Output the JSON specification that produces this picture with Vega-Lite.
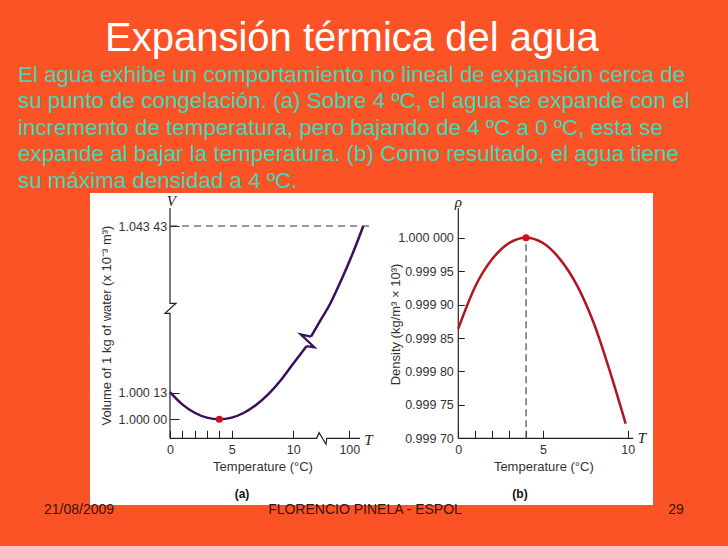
{
  "$schema": "https://vega.github.io/schema/vega-lite/v6.json",
  "autosize": {"type": "none"},
  "padding": {"left": 90, "top": 193, "right": 638, "bottom": 353},
  "background": "#fb5326",
  "title": {
    "text": "Expansión térmica del agua",
    "anchor": "start",
    "frame": "group",
    "dx": 15,
    "offset": 5,
    "font": "Liberation Sans",
    "fontSize": 40,
    "fontWeight": "normal",
    "color": "#ffffff"
  },
  "datasets": {
    "vol": [
      {"seg": "a", "T": 0, "V": 1.000133},
      {"seg": "a", "T": 1, "V": 1.000073},
      {"seg": "a", "T": 2, "V": 1.000032},
      {"seg": "a", "T": 3, "V": 1.000008},
      {"seg": "a", "T": 4, "V": 1.0},
      {"seg": "a", "T": 5, "V": 1.000008},
      {"seg": "a", "T": 6, "V": 1.000032},
      {"seg": "a", "T": 7, "V": 1.000071},
      {"seg": "a", "T": 8, "V": 1.000124},
      {"seg": "a", "T": 9, "V": 1.000192},
      {"seg": "a", "T": 10, "V": 1.000273},
      {"seg": "a", "T": 20.8, "V": 1.000316},
      {"seg": "a", "T": 31.53, "V": 1.000358},
      {"seg": "b", "T": 38.45, "V": 1.000404},
      {"seg": "b", "T": 52.9, "V": 1.00048},
      {"seg": "b", "T": 69.0, "V": 1.0011014},
      {"seg": "b", "T": 79.75, "V": 1.008699},
      {"seg": "b", "T": 90.36, "V": 1.016567},
      {"seg": "b", "T": 106.4, "V": 1.029321},
      {"seg": "b", "T": 122.5, "V": 1.04343}
    ],
    "vol_zig": [
      {"o": 1, "T": 31.53, "V": 1.000358},
      {"o": 2, "T": 43.75, "V": 1.000352},
      {"o": 3, "T": 21.89, "V": 1.000415},
      {"o": 4, "T": 38.45, "V": 1.000404}
    ],
    "axes_a": [
      {"part": "y", "o": 1, "T": 0, "V": 1.053198},
      {"part": "y", "o": 2, "T": 0, "V": 1.0014813},
      {"part": "y", "o": 3, "T": 0.4865, "V": 1.0014813},
      {"part": "y", "o": 4, "T": -0.4054, "V": 1.000518},
      {"part": "y", "o": 5, "T": 0, "V": 1.000518},
      {"part": "y", "o": 6, "T": 0, "V": 0.9999071},
      {"part": "x", "o": 1, "T": 0, "V": 0.9999071},
      {"part": "x", "o": 2, "T": 47.6, "V": 0.9999071},
      {"part": "x", "o": 3, "T": 51.3, "V": 0.9999345},
      {"part": "x", "o": 4, "T": 62.55, "V": 0.9998778},
      {"part": "x", "o": 5, "T": 63.68, "V": 0.9999071},
      {"part": "x", "o": 6, "T": 117.2, "V": 0.9999071}
    ],
    "ref_a": [{"T": 0, "T2": 134, "V": 1.04343}],
    "min_a": [{"T": 4, "V": 1.0}],
    "notes_a": [
      {"role": "symbol", "label": "V", "T": 0.1, "V": 1.057},
      {"role": "symbol", "label": "T", "T": 130.9, "V": 0.9998988},
      {"role": "panel", "label": "(a)", "T": 5.84, "V": 0.999635},
      {"role": "footer", "label": "21/08/2009", "T": -7.378, "V": 0.9995567}
    ],
    "dens": [
      {"T": 0, "rho": 0.999864},
      {"T": 1, "rho": 0.999927},
      {"T": 2, "rho": 0.999968},
      {"T": 3, "rho": 0.999992},
      {"T": 4, "rho": 1.0},
      {"T": 5, "rho": 0.999992},
      {"T": 6, "rho": 0.999968},
      {"T": 7, "rho": 0.999929},
      {"T": 8, "rho": 0.999872},
      {"T": 9, "rho": 0.999796},
      {"T": 9.88, "rho": 0.999722}
    ],
    "axes_b": [
      {"part": "y", "o": 1, "T": 0, "rho": 1.000044},
      {"part": "y", "o": 2, "T": 0, "rho": 0.9997},
      {"part": "x", "o": 1, "T": 0, "rho": 0.9997},
      {"part": "x", "o": 2, "T": 10.33, "rho": 0.9997}
    ],
    "ref_b": [{"T": 4, "rho": 0.9997, "rho2": 1.0}],
    "max_b": [{"T": 4, "rho": 1.0}],
    "notes_b": [
      {"role": "symbol", "label": "ρ", "T": 0, "rho": 1.0000538},
      {"role": "symbol", "label": "T", "T": 10.84, "rho": 0.9997004},
      {"role": "panel", "label": "(b)", "T": 3.64, "rho": 0.9996167},
      {"role": "footer", "label": "FLORENCIO PINELA - ESPOL", "T": -5.508, "rho": 0.9995928},
      {"role": "footer", "label": "29", "T": 12.85, "rho": 0.9995928}
    ]
  },
  "bounds": "flush",
  "vconcat": [
    {
      "title": {
        "text": [
          "El agua exhibe un comportamiento no lineal de expansión cerca de",
          "su punto de congelación. (a) Sobre 4 ºC, el agua se expande con el",
          "incremento de temperatura, pero bajando de 4 ºC a 0 ºC, esta se",
          "expande al bajar la temperatura. (b) Como resultado, el agua tiene",
          "su máxima densidad a 4 ºC."
        ],
        "anchor": "start",
        "frame": "group",
        "dx": -72,
        "offset": 1,
        "font": "Liberation Sans",
        "fontSize": 22.4,
        "fontWeight": "normal",
        "lineHeight": 26.5,
        "color": "#42d8b4"
      },
      "spacing": 0,
      "bounds": "flush",
      "hconcat": [
        {
          "width": 284,
          "height": 312,
          "encoding": {
            "x": {
              "field": "T",
              "type": "quantitative",
              "scale": {"domain": [-6.4865, 10, 100, 139.7], "range": [0, 203.3, 259.3, 284], "nice": false, "zero": false},
              "axis": {
                "values": [0, 1, 2, 3, 4, 5, 10, 100],
                "labelExpr": "indexof([0,5,10,100], datum.value) >= 0 ? datum.label : ''",
                "tickSize": -8,
                "labelPadding": 12.7,
                "labelFontSize": 12.5,
                "offset": -66.7,
                "title": "Temperature (°C)",
                "titleX": 172.5,
                "titleY": 28.4,
                "titleAngle": 0,
                "titleAlign": "center",
                "titleBaseline": "middle",
                "titleFontSize": 13
              }
            },
            "y": {
              "field": "V",
              "type": "quantitative",
              "scale": {"domain": [0.9995811, 1.0005587, 1.04343, 1.061338], "range": [312, 112, 33, 0], "nice": false, "zero": false},
              "axis": {
                "values": [1, 1.00013, 1.04343],
                "labelExpr": "datum.value > 1.04 ? '1.043 43' : datum.value > 1.0001 ? '1.000 13' : '1.000 00'",
                "tickSize": -9,
                "labelPadding": 12.3,
                "labelFontSize": 12.5,
                "offset": -80,
                "title": "Volume of 1 kg of water (x 10⁻³ m³)",
                "titleX": -63.3,
                "titleY": 132,
                "titleAngle": 270,
                "titleAlign": "center",
                "titleBaseline": "middle",
                "titleFontSize": 13
              }
            }
          },
          "layer": [
            {
              "data": {"name": "axes_a"},
              "mark": {"type": "line", "color": "#222222", "strokeWidth": 1.2, "interpolate": "linear"},
              "encoding": {"detail": {"field": "part", "type": "nominal"}, "order": {"field": "o", "type": "quantitative"}}
            },
            {
              "data": {"name": "ref_a"},
              "mark": {"type": "rule", "color": "#333333", "strokeWidth": 1, "strokeDash": [7, 5]},
              "encoding": {"x2": {"field": "T2"}}
            },
            {
              "data": {"name": "vol"},
              "mark": {"type": "line", "color": "#3c0f5e", "strokeWidth": 2.5, "interpolate": "monotone"},
              "encoding": {"detail": {"field": "seg", "type": "nominal"}}
            },
            {
              "data": {"name": "vol_zig"},
              "mark": {"type": "line", "color": "#3c0f5e", "strokeWidth": 2.2, "interpolate": "linear"},
              "encoding": {"order": {"field": "o", "type": "quantitative"}}
            },
            {
              "data": {"name": "min_a"},
              "mark": {"type": "point", "filled": true, "size": 50, "color": "#d0101a", "opacity": 1}
            },
            {
              "data": {"name": "notes_a"},
              "transform": [{"filter": "datum.role === 'symbol'"}],
              "mark": {"type": "text", "font": "Liberation Serif", "fontStyle": "italic", "fontSize": 15, "color": "#222222", "align": "center", "baseline": "middle"},
              "encoding": {"text": {"field": "label"}}
            },
            {
              "data": {"name": "notes_a"},
              "transform": [{"filter": "datum.role === 'panel'"}],
              "mark": {"type": "text", "font": "Liberation Sans", "fontWeight": "bold", "fontSize": 12, "color": "#111111", "align": "center", "baseline": "middle"},
              "encoding": {"text": {"field": "label"}}
            },
            {
              "data": {"name": "notes_a"},
              "transform": [{"filter": "datum.role === 'footer'"}],
              "mark": {"type": "text", "font": "Liberation Sans", "fontSize": 14, "color": "#3a1410", "align": "center", "baseline": "middle"},
              "encoding": {"text": {"field": "label"}}
            }
          ]
        },
        {
          "width": 279,
          "height": 312,
          "encoding": {
            "x": {
              "field": "T",
              "type": "quantitative",
              "scale": {"domain": [-4.9764, 11.4935], "nice": false, "zero": false},
              "axis": {
                "values": [0, 1, 2, 3, 4, 5, 10],
                "labelExpr": "indexof([0,5,10], datum.value) >= 0 ? datum.label : ''",
                "tickSize": -8,
                "labelPadding": 12.7,
                "labelFontSize": 12.5,
                "offset": -66.7,
                "title": "Temperature (°C)",
                "titleX": 169.3,
                "titleY": 28.4,
                "titleAngle": 0,
                "titleAlign": "center",
                "titleBaseline": "middle",
                "titleFontSize": 13
              }
            },
            "y": {
              "field": "rho",
              "type": "quantitative",
              "scale": {"domain": [0.99960025, 1.00006685], "nice": false, "zero": false},
              "axis": {
                "values": [0.9997, 0.99975, 0.9998, 0.99985, 0.9999, 0.99995, 1],
                "labelExpr": "datum.value > 0.99999 ? '1.000 000' : '0.999 ' + format((datum.value - 0.999) * 100000, '02d')",
                "tickSize": -6,
                "labelPadding": 11,
                "labelFontSize": 12.5,
                "offset": -84.3,
                "title": "Density (kg/m³ × 10³)",
                "titleX": -63.3,
                "titleY": 131,
                "titleAngle": 270,
                "titleAlign": "center",
                "titleBaseline": "middle",
                "titleFontSize": 13
              }
            }
          },
          "layer": [
            {
              "data": {"name": "axes_b"},
              "mark": {"type": "line", "color": "#222222", "strokeWidth": 1.2, "interpolate": "linear"},
              "encoding": {"detail": {"field": "part", "type": "nominal"}, "order": {"field": "o", "type": "quantitative"}}
            },
            {
              "data": {"name": "ref_b"},
              "mark": {"type": "rule", "color": "#555555", "strokeWidth": 1.3, "strokeDash": [7, 4]},
              "encoding": {"y2": {"field": "rho2"}}
            },
            {
              "data": {"name": "dens"},
              "mark": {"type": "line", "color": "#b3141d", "strokeWidth": 2.5, "interpolate": "monotone"}
            },
            {
              "data": {"name": "max_b"},
              "mark": {"type": "point", "filled": true, "size": 50, "color": "#d0101a", "opacity": 1}
            },
            {
              "data": {"name": "notes_b"},
              "transform": [{"filter": "datum.role === 'symbol'"}],
              "mark": {"type": "text", "font": "Liberation Serif", "fontStyle": "italic", "fontSize": 15, "color": "#222222", "align": "center", "baseline": "middle"},
              "encoding": {"text": {"field": "label"}}
            },
            {
              "data": {"name": "notes_b"},
              "transform": [{"filter": "datum.role === 'panel'"}],
              "mark": {"type": "text", "font": "Liberation Sans", "fontWeight": "bold", "fontSize": 12, "color": "#111111", "align": "center", "baseline": "middle"},
              "encoding": {"text": {"field": "label"}}
            },
            {
              "data": {"name": "notes_b"},
              "transform": [{"filter": "datum.role === 'footer'"}],
              "mark": {"type": "text", "font": "Liberation Sans", "fontSize": 14, "color": "#3a1410", "align": "center", "baseline": "middle"},
              "encoding": {"text": {"field": "label"}}
            }
          ]
        }
      ]
    }
  ],
  "config": {
    "view": {"fill": "#ffffff", "stroke": null},
    "axis": {
      "labelFont": "Liberation Sans",
      "titleFont": "Liberation Sans",
      "domain": false,
      "grid": false,
      "tickColor": "#222222",
      "tickWidth": 1,
      "labelColor": "#333333",
      "titleColor": "#333333",
      "titleFontWeight": "normal",
      "labelOverlap": false,
      "labelFlush": false,
      "labelBound": false
    }
  }
}
